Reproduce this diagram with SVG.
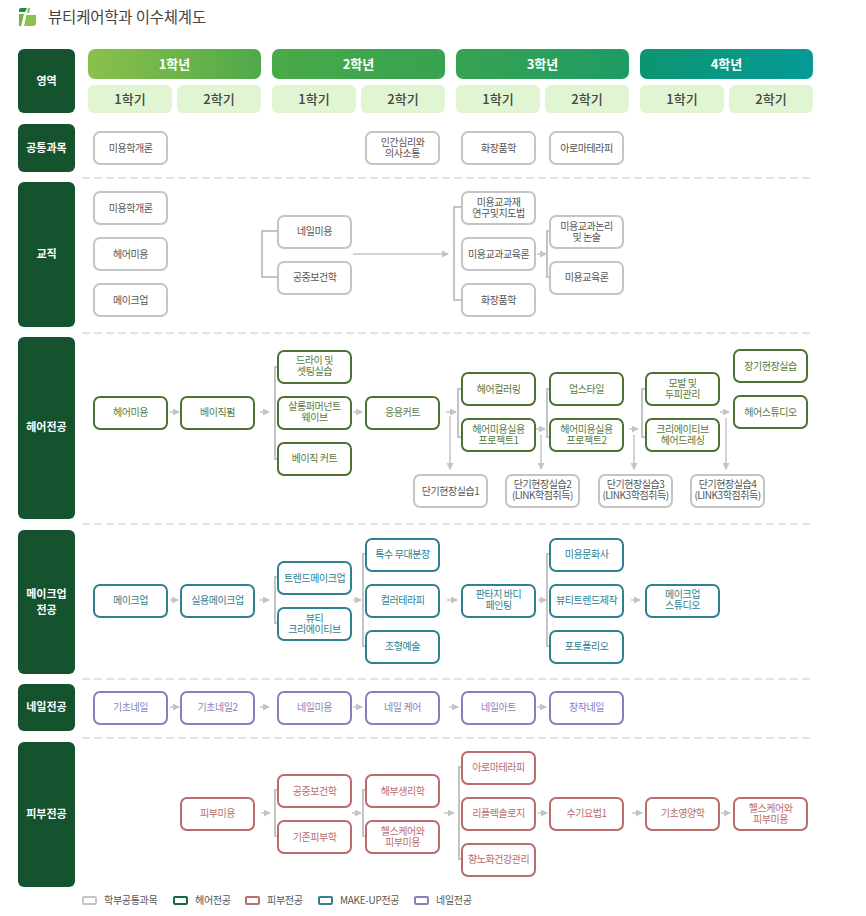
<svg xmlns="http://www.w3.org/2000/svg" width="866" height="916" viewBox="0 0 866 916">
<style>
text{font-family:"Noto Sans CJK KR","Noto Sans",sans-serif;text-anchor:middle}
.n rect{width:73px;height:32px;rx:6px;ry:6px;fill:#fff;stroke-width:2}
.n text{font-size:10px;letter-spacing:-.45px}
.g rect{stroke:#c4c4c4}.g text{fill:#555}
.h rect{stroke:#4d7332}.h text{fill:#567a3e}
.m rect{stroke:#2f8191}.m text{fill:#2f8191}
.l rect{stroke:#8a7fbd}.l text{fill:#8a7fbd}
.s rect{stroke:#b96b6d}.s text{fill:#b96b6d}
.a rect{fill:#14532d}.a text{fill:#fff;font-size:11px;font-weight:700}
.y text{fill:#fff;font-size:13px;font-weight:700}
.t rect{fill:#e2f5d2}.t text{fill:#444;font-size:13px;font-weight:500}
#connectors path{fill:none;stroke:#c4c4c4}
.b{stroke-width:2}.f{stroke-width:1.5;marker-end:url(#ah)}
#legend rect{fill:#fff;stroke-width:2;width:13px;height:7px;rx:1px}
#legend text{font-size:10px;fill:#555;text-anchor:start;letter-spacing:-.3px}
</style>
<defs>
<marker id="ah" markerUnits="userSpaceOnUse" markerWidth="7" markerHeight="7" refX="6" refY="3.5" orient="auto"><path d="M0 0L7 3.5L0 7z" fill="#c4c4c4"/></marker>
<linearGradient id="y1"><stop offset="0" stop-color="#8bc04b"/><stop offset="1" stop-color="#4fa94a"/></linearGradient>
<linearGradient id="y2"><stop offset="0" stop-color="#4aaa48"/><stop offset="1" stop-color="#37a251"/></linearGradient>
<linearGradient id="y3"><stop offset="0" stop-color="#38a352"/><stop offset="1" stop-color="#1f9b65"/></linearGradient>
<linearGradient id="y4"><stop offset="0" stop-color="#0d9570"/><stop offset="1" stop-color="#069a98"/></linearGradient>
</defs>
<rect width="866" height="916" fill="#fff"/>
<g id="logo"><path d="M19 10Q19 8 21 8H27L25 12H19Z" fill="#1f8a44"/><path d="M19 14H24L21 26H19Z" fill="#6fb544"/><path d="M28 8L24 26H33Q36 26 36 23V14H29L30 8Z" fill="#8cc152"/><path d="M25 13H36V15H25Z" fill="#fff"/></g>
<text x="127" y="23" style="font-size:15.500px;fill:#444;letter-spacing:-.2px">뷰티케어학과 이수체계도</text>
<g id="dividers" stroke="#e3e3e3" stroke-width="2" stroke-dasharray="8 4"><path d="M82 178H812M82 333H812M82 524H812M82 679H812M82 738H812"/></g>
<g id="areas" class="a">
<g id="a0"><rect x="18" y="49" width="57" height="64" rx="6"/><text x="46.500" y="85">영역</text></g>
<g id="a1"><rect x="18" y="124" width="57" height="48" rx="6"/><text x="46.500" y="152">공통과목</text></g>
<g id="a2"><rect x="18" y="182" width="57" height="145" rx="6"/><text x="46.500" y="258">교직</text></g>
<g id="a3"><rect x="18" y="337" width="57" height="182" rx="6"/><text x="46.500" y="431">헤어전공</text></g>
<g id="a4"><rect x="18" y="530" width="57" height="144" rx="6"/><text x="46.500" y="598"><tspan x="46.500">메이크업</tspan><tspan x="46.500" dy="16">전공</tspan></text></g>
<g id="a5"><rect x="18" y="684" width="57" height="47" rx="6"/><text x="46.500" y="711">네일전공</text></g>
<g id="a6"><rect x="18" y="742" width="57" height="145" rx="6"/><text x="46.500" y="818">피부전공</text></g>
</g>
<g id="years" class="y">
<g id="y-1"><rect x="88" y="49" width="173" height="30" rx="7" fill="url(#y1)"/><text x="174.500" y="69">1학년</text></g>
<g id="y-2"><rect x="272" y="49" width="173" height="30" rx="7" fill="url(#y2)"/><text x="358.500" y="69">2학년</text></g>
<g id="y-3"><rect x="456" y="49" width="173" height="30" rx="7" fill="url(#y3)"/><text x="542.500" y="69">3학년</text></g>
<g id="y-4"><rect x="640" y="49" width="173" height="30" rx="7" fill="url(#y4)"/><text x="726.500" y="69">4학년</text></g>
</g>
<g id="terms" class="t">
<g id="t11"><rect x="88" y="85" width="84" height="28" rx="6"/><text x="130" y="104">1학기</text></g>
<g id="t12"><rect x="177" y="85" width="84" height="28" rx="6"/><text x="219" y="104">2학기</text></g>
<g id="t21"><rect x="272" y="85" width="84" height="28" rx="6"/><text x="314" y="104">1학기</text></g>
<g id="t22"><rect x="361" y="85" width="84" height="28" rx="6"/><text x="403" y="104">2학기</text></g>
<g id="t31"><rect x="456" y="85" width="84" height="28" rx="6"/><text x="498" y="104">1학기</text></g>
<g id="t32"><rect x="545" y="85" width="84" height="28" rx="6"/><text x="587" y="104">2학기</text></g>
<g id="t41"><rect x="640" y="85" width="84" height="28" rx="6"/><text x="682" y="104">1학기</text></g>
<g id="t42"><rect x="729" y="85" width="84" height="28" rx="6"/><text x="771" y="104">2학기</text></g>
</g>
<g id="connectors">
<path class="b" d="M278 231H262V277H278M462 207H454V300H462M550 231H547V277H550"/>
<path class="f" d="M353 254H448"/><path class="f" d="M537 254H546"/>
<path class="b" d="M278 367H275V459H278M462 389H458V437H462M550 389H547V437H550M646 389H642V437H646"/>
<path class="f" d="M170 412H179"/><path class="f" d="M260 412H269"/><path class="f" d="M353 412H362"/><path class="f" d="M446 412H456"/><path class="f" d="M535 429H545"/><path class="f" d="M629 429H638"/><path class="f" d="M720 412H729"/>
<path class="f" d="M450 416V469"/><path class="f" d="M541 435V469"/><path class="f" d="M634 435V469"/><path class="f" d="M726 418V469"/>
<path class="b" d="M278 577H275V623H278M366 554H363V646H366M550 554H547V646H550"/>
<path class="f" d="M170 600H178"/><path class="f" d="M260 600H269"/><path class="f" d="M353 600H361"/><path class="f" d="M447 600H457"/><path class="f" d="M538 600H546"/><path class="f" d="M631 600H640"/>
<path class="f" d="M170 707H179"/><path class="f" d="M260 707H269"/><path class="f" d="M353 707H362"/><path class="f" d="M449 707H458"/><path class="f" d="M537 707H546"/>
<path class="b" d="M278 790H275V836H278M366 790H363V836H366M462 767H459V859H462"/>
<path class="f" d="M261 813H270"/><path class="f" d="M352 813H361"/><path class="f" d="M444 813H454"/><path class="f" d="M538 813H547"/><path class="f" d="M632 813H642"/><path class="f" d="M721 813H730"/>
</g>
<g id="common" class="n g">
<g id="c1"><rect x="94" y="132"/><text x="130.500" y="152">미용학개론</text></g>
<g id="c2"><rect x="366" y="132"/><text y="146"><tspan x="402.500">인간심리와</tspan><tspan x="402.500" dy="11">의사소통</tspan></text></g>
<g id="c3"><rect x="462" y="132"/><text x="498.500" y="152">화장품학</text></g>
<g id="c4"><rect x="550" y="132"/><text x="586.500" y="152">아로마테라피</text></g>
</g>
<g id="teaching" class="n g">
<g id="e1"><rect x="94" y="192"/><text x="130.500" y="212">미용학개론</text></g>
<g id="e2"><rect x="94" y="238"/><text x="130.500" y="258">헤어미용</text></g>
<g id="e3"><rect x="94" y="284"/><text x="130.500" y="304">메이크업</text></g>
<g id="e4"><rect x="278" y="216"/><text x="314.500" y="235">네일미용</text></g>
<g id="e5"><rect x="278" y="262"/><text x="314.500" y="281">공중보건학</text></g>
<g id="e6"><rect x="462" y="192"/><text y="206"><tspan x="498.500">미용교과재</tspan><tspan x="498.500" dy="11">연구및지도법</tspan></text></g>
<g id="e7"><rect x="462" y="238"/><text x="498.500" y="258">미용교과교육론</text></g>
<g id="e8"><rect x="462" y="284"/><text x="498.500" y="304">화장품학</text></g>
<g id="e9"><rect x="550" y="216"/><text y="230"><tspan x="586.500">미용교과논리</tspan><tspan x="586.500" dy="11">및 논술</tspan></text></g>
<g id="e10"><rect x="550" y="262"/><text x="586.500" y="281">미용교육론</text></g>
</g>
<g id="hair" class="n h">
<g id="h1"><rect x="94" y="397"/><text x="130.500" y="416">헤어미용</text></g>
<g id="h2"><rect x="181" y="397"/><text x="217.500" y="416">베이직펌</text></g>
<g id="h3"><rect x="278" y="351"/><text y="364"><tspan x="314.500">드라이 및</tspan><tspan x="314.500" dy="11">셋팅실습</tspan></text></g>
<g id="h4"><rect x="278" y="397"/><text y="410"><tspan x="314.500">살롱퍼머넌트</tspan><tspan x="314.500" dy="11">웨이브</tspan></text></g>
<g id="h5"><rect x="278" y="443"/><text x="314.500" y="462">베이직 커트</text></g>
<g id="h6"><rect x="366" y="397"/><text x="402.500" y="416">응용커트</text></g>
<g id="h7"><rect x="462" y="373"/><text x="498.500" y="393">헤어컬러링</text></g>
<g id="h8"><rect x="462" y="419"/><text y="433"><tspan x="498.500">헤어미용실용</tspan><tspan x="498.500" dy="11">프로젝트1</tspan></text></g>
<g id="h9"><rect x="550" y="373"/><text x="586.500" y="393">업스타일</text></g>
<g id="h10"><rect x="550" y="419"/><text y="433"><tspan x="586.500">헤어미용실용</tspan><tspan x="586.500" dy="11">프로젝트2</tspan></text></g>
<g id="h11"><rect x="646" y="373"/><text y="387"><tspan x="682.500">모발 및</tspan><tspan x="682.500" dy="11">두피관리</tspan></text></g>
<g id="h12"><rect x="646" y="419"/><text y="433"><tspan x="682.500">크리에이티브</tspan><tspan x="682.500" dy="11">헤어드레싱</tspan></text></g>
<g id="h13"><rect x="734" y="350"/><text x="770.500" y="370">장기현장실습</text></g>
<g id="h14"><rect x="734" y="396"/><text x="770.500" y="416">헤어스튜디오</text></g>
</g>
<g id="practice" class="n g">
<g id="p1"><rect x="414" y="475"/><text x="450.500" y="495">단기현장실습1</text></g>
<g id="p2"><rect x="506" y="475"/><text y="488"><tspan x="542.500">단기현장실습2</tspan><tspan x="542.500" dy="11">(LINK학점취득)</tspan></text></g>
<g id="p3"><rect x="599" y="475"/><text y="488"><tspan x="635.500">단기현장실습3</tspan><tspan x="635.500" dy="11">(LINK3학점취득)</tspan></text></g>
<g id="p4"><rect x="691" y="475"/><text y="488"><tspan x="727.500">단기현장실습4</tspan><tspan x="727.500" dy="11">(LINK3학점취득)</tspan></text></g>
</g>
<g id="makeup" class="n m">
<g id="m1"><rect x="94" y="585"/><text x="130.500" y="604">메이크업</text></g>
<g id="m2"><rect x="181" y="585"/><text x="217.500" y="604">실용메이크업</text></g>
<g id="m3"><rect x="278" y="562"/><text x="314.500" y="582">트렌드메이크업</text></g>
<g id="m4"><rect x="278" y="608"/><text y="622"><tspan x="314.500">뷰티</tspan><tspan x="314.500" dy="11">크리에이티브</tspan></text></g>
<g id="m5"><rect x="366" y="539"/><text x="402.500" y="558">특수 무대분장</text></g>
<g id="m6"><rect x="366" y="585"/><text x="402.500" y="604">컬러테라피</text></g>
<g id="m7"><rect x="366" y="631"/><text x="402.500" y="650">조형예술</text></g>
<g id="m8"><rect x="462" y="585"/><text y="598"><tspan x="498.500">판타지 바디</tspan><tspan x="498.500" dy="11">페인팅</tspan></text></g>
<g id="m9"><rect x="550" y="539"/><text x="586.500" y="558">미용문화사</text></g>
<g id="m10"><rect x="550" y="585"/><text x="586.500" y="604">뷰티트렌드제작</text></g>
<g id="m11"><rect x="550" y="631"/><text x="586.500" y="650">포토폴리오</text></g>
<g id="m12"><rect x="646" y="585"/><text y="598"><tspan x="682.500">메이크업</tspan><tspan x="682.500" dy="11">스튜디오</tspan></text></g>
</g>
<g id="nail" class="n l">
<g id="l1"><rect x="94" y="692"/><text x="130.500" y="711">기초네일</text></g>
<g id="l2"><rect x="181" y="692"/><text x="217.500" y="711">기초네일2</text></g>
<g id="l3"><rect x="278" y="692"/><text x="314.500" y="711">네일미용</text></g>
<g id="l4"><rect x="366" y="692"/><text x="402.500" y="711">네일 케어</text></g>
<g id="l5"><rect x="462" y="692"/><text x="498.500" y="711">네일아트</text></g>
<g id="l6"><rect x="550" y="692"/><text x="586.500" y="711">창작네일</text></g>
</g>
<g id="skin" class="n s">
<g id="s1"><rect x="181" y="798"/><text x="217.500" y="817">피부미용</text></g>
<g id="s2"><rect x="278" y="775"/><text x="314.500" y="795">공중보건학</text></g>
<g id="s3"><rect x="278" y="821"/><text x="314.500" y="841">기존피부학</text></g>
<g id="s4"><rect x="366" y="775"/><text x="402.500" y="795">해부생리학</text></g>
<g id="s5"><rect x="366" y="821"/><text y="835"><tspan x="402.500">헬스케어와</tspan><tspan x="402.500" dy="11">피부미용</tspan></text></g>
<g id="s6"><rect x="462" y="752"/><text x="498.500" y="771">아로마테라피</text></g>
<g id="s7"><rect x="462" y="798"/><text x="498.500" y="817">리플렉솔로지</text></g>
<g id="s8"><rect x="462" y="844"/><text x="498.500" y="863">향노화건강관리</text></g>
<g id="s9"><rect x="550" y="798"/><text x="586.500" y="817">수기요법1</text></g>
<g id="s10"><rect x="646" y="798"/><text x="682.500" y="817">기초영양학</text></g>
<g id="s11"><rect x="734" y="798"/><text y="812"><tspan x="770.500">헬스케어와</tspan><tspan x="770.500" dy="11">피부미용</tspan></text></g>
</g>
<g id="legend">
<rect x="83" y="897" stroke="#c4c4c4"/><text x="104" y="904">학부공통과목</text>
<rect x="174" y="897" stroke="#17693c"/><text x="195" y="904">헤어전공</text>
<rect x="246" y="897" stroke="#b96b6d"/><text x="267" y="904">피부전공</text>
<rect x="319" y="897" stroke="#2f8191"/><text x="340" y="904">MAKE-UP전공</text>
<rect x="415" y="897" stroke="#8a7fbd"/><text x="436" y="904">네일전공</text>
</g>
</svg>
